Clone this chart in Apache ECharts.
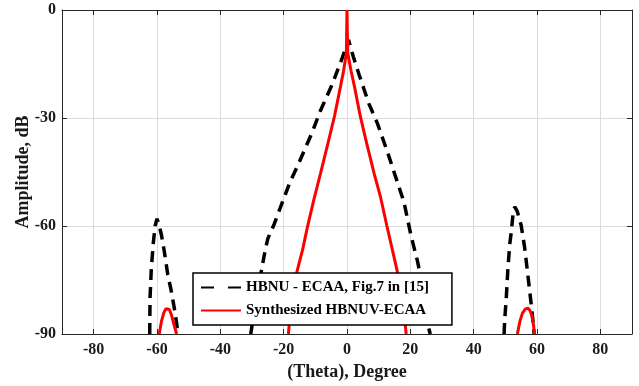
<!DOCTYPE html>
<html>
<head>
<meta charset="utf-8">
<title>Array pattern comparison</title>
<script src="https://cdn.jsdelivr.net/npm/echarts@6/dist/echarts.min.js"></script>
<style>
  html, body { margin: 0; padding: 0; background: #ffffff; }
  #chart { width: 639px; height: 386px; }
</style>
</head>
<body>
<div id="chart"></div>
<script>
// Axis tick values
const thetaTicks = [-80, -60, -40, -20, 0, 20, 40, 60, 80];
const ampTicks = [-90, -60, -30, 0];

// Series names
const seriesNames = ['HBNU - ECAA, Fig.7 in [15]', 'Synthesized HBNUV-ECAA'];

// HBNU - ECAA pattern (null separates the lobes)
const hbnuTheta = [
  -62.3, -62.2, -61.8, -61.2, -60.6, -60.0, -59.4, -58.6, -57.7, -56.6, -55.5, -54.5, -53.8, -53.4,
  null,
  -30.4, -29.0, -27.8, -26.9, -25.9, -25.0, -23.0, -21.1, -18.0, -15.2, -11.0, -8.4, -4.7, -1.5, 0.5,
  2.0, 3.8, 6.9, 9.6, 12.8, 15.9, 18.0, 20.2, 22.3, 24.0, 25.5, 26.3,
  null,
  49.6, 49.8, 50.3, 50.8, 51.4, 51.9, 52.5, 53.0, 53.8, 55.0, 56.1, 57.1, 58.2, 58.8, 59.1
];
const hbnuAmp = [
  -90, -80, -72, -65, -60, -58, -59.5, -62.5, -67, -73.5, -78, -83, -87, -90,
  null,
  -90, -82, -76, -71.8, -67, -63.5, -59.5, -55, -47.8, -42.5, -34, -28, -20.7, -13.3, -8.3,
  -13, -17.9, -26, -31.5, -39.5, -47.8, -53.4, -62.6, -69.9, -77.5, -87.4, -90,
  null,
  -90, -86, -80, -72, -65, -61.5, -56, -54.7, -56, -59.8, -66, -73.5, -82, -87, -90
];

// Synthesized HBNUV-ECAA pattern (null separates the lobes)
const synTheta = [
  -59.3, -58.6, -57.8, -57.2, -56.7, -56.1, -55.4, -54.6, -53.8,
  null,
  -18.5, -18.0, -17.0, -15.8, -14.0, -12.5, -10.5, -8.4, -6.0, -3.9, -2.0, -1.1, -0.2, -0.1, 0.0,
  0.1, 0.25, 1.3, 2.3, 4.2, 6.2, 8.6, 10.6, 12.6, 14.3, 15.9, 17.2, 18.2, 18.7,
  null,
  53.8, 54.6, 55.4, 56.3, 57.1, 57.8, 58.4, 58.9, 59.2
];
const synAmp = [
  -90, -86.5, -84, -83, -82.8, -83.2, -84.8, -87.5, -90,
  null,
  -90, -85, -78, -72.7, -66.5, -60.3, -52.8, -45.5, -37, -29.3, -21, -17, -12, -6, 0,
  -6, -12, -17, -21, -29.5, -37, -45.5, -52, -60, -66.5, -72.7, -80, -86, -90,
  null,
  -90, -86.5, -84.2, -83.1, -82.8, -83.5, -85, -87.5, -90
];

function toPairs(xs, ys) {
  return xs.map((x, i) => (x === null || ys[i] === null) ? ['-', '-'] : [x, ys[i]]);
}

const serifBold = {
  fontFamily: 'Liberation Serif',
  fontWeight: 'bold',
  color: '#1a1a1a'
};
const frameColor = '#262626';
const gridColor = '#dcdcdc';

const chart = echarts.init(document.getElementById('chart'), null, { renderer: 'canvas' });

chart.setOption({
  animation: false,
  backgroundColor: '#ffffff',
  grid: { left: 62, right: 7, top: 10, bottom: 50, containLabel: false },
  legend: {
    orient: 'vertical',
    left: 193,
    top: 273,
    itemWidth: 40,
    itemHeight: 14,
    itemGap: 8,
    padding: [7, 23, 7, 7],
    borderColor: '#000000',
    borderWidth: 1.5,
    backgroundColor: '#ffffff',
    // hide the marker dot so only the line sample is shown
    itemStyle: { color: 'rgba(0,0,0,0)', borderColor: 'rgba(0,0,0,0)', borderWidth: 0, opacity: 0 },
    textStyle: Object.assign({}, serifBold, { fontSize: 15, color: '#000000' }),
    data: [
      { name: seriesNames[0], lineStyle: { type: [13, 14] } },
      { name: seriesNames[1] }
    ]
  },
  xAxis: [
    {
      type: 'value',
      position: 'bottom',
      min: -90,
      max: 90,
      name: '(Theta), Degree',
      nameLocation: 'middle',
      nameGap: 29,
      nameMoveOverlap: false,
      nameTextStyle: Object.assign({}, serifBold, { fontSize: 18 }),
      axisLine: { show: true, onZero: false, lineStyle: { color: frameColor, width: 1 } },
      axisTick: { show: true, inside: true, length: 5, customValues: thetaTicks, lineStyle: { color: frameColor } },
      axisLabel: Object.assign({ customValues: thetaTicks, fontSize: 16, margin: 8 }, serifBold),
      splitLine: { show: true, lineStyle: { color: gridColor, width: 1 } }
    },
    {
      type: 'value',
      position: 'top',
      min: -90,
      max: 90,
      axisLine: { show: true, onZero: false, lineStyle: { color: frameColor, width: 1 } },
      axisTick: { show: true, inside: true, length: 5, customValues: thetaTicks, lineStyle: { color: frameColor } },
      axisLabel: { show: false },
      splitLine: { show: false }
    }
  ],
  yAxis: [
    {
      type: 'value',
      position: 'left',
      min: -90,
      max: 0,
      interval: 30,
      name: 'Amplitude, dB',
      nameLocation: 'middle',
      nameGap: 30,
      nameMoveOverlap: false,
      nameTextStyle: Object.assign({}, serifBold, { fontSize: 18 }),
      axisLine: { show: true, onZero: false, lineStyle: { color: frameColor, width: 1 } },
      axisTick: { show: true, inside: true, length: 5, customValues: ampTicks, lineStyle: { color: frameColor } },
      axisLabel: Object.assign({ customValues: ampTicks, fontSize: 16, margin: 6 }, serifBold),
      splitLine: { show: true, lineStyle: { color: gridColor, width: 1 } }
    },
    {
      type: 'value',
      position: 'right',
      min: -90,
      max: 0,
      interval: 30,
      axisLine: { show: true, onZero: false, lineStyle: { color: frameColor, width: 1 } },
      axisTick: { show: true, inside: true, length: 5, customValues: ampTicks, lineStyle: { color: frameColor } },
      axisLabel: { show: false },
      splitLine: { show: false }
    }
  ],
  series: [
    {
      name: seriesNames[0],
      type: 'line',
      xAxisIndex: 0,
      yAxisIndex: 0,
      symbol: 'none',
      showSymbol: false,
      connectNulls: false,
      itemStyle: { color: '#000000' },
      lineStyle: { color: '#000000', width: 3.5, type: [11, 7] },
      data: toPairs(hbnuTheta, hbnuAmp),
      z: 2
    },
    {
      name: seriesNames[1],
      type: 'line',
      xAxisIndex: 0,
      yAxisIndex: 0,
      symbol: 'none',
      showSymbol: false,
      connectNulls: false,
      itemStyle: { color: '#ff0000' },
      lineStyle: { color: '#ff0000', width: 3 },
      data: toPairs(synTheta, synAmp),
      z: 3
    }
  ]
});
</script>
</body>
</html>
